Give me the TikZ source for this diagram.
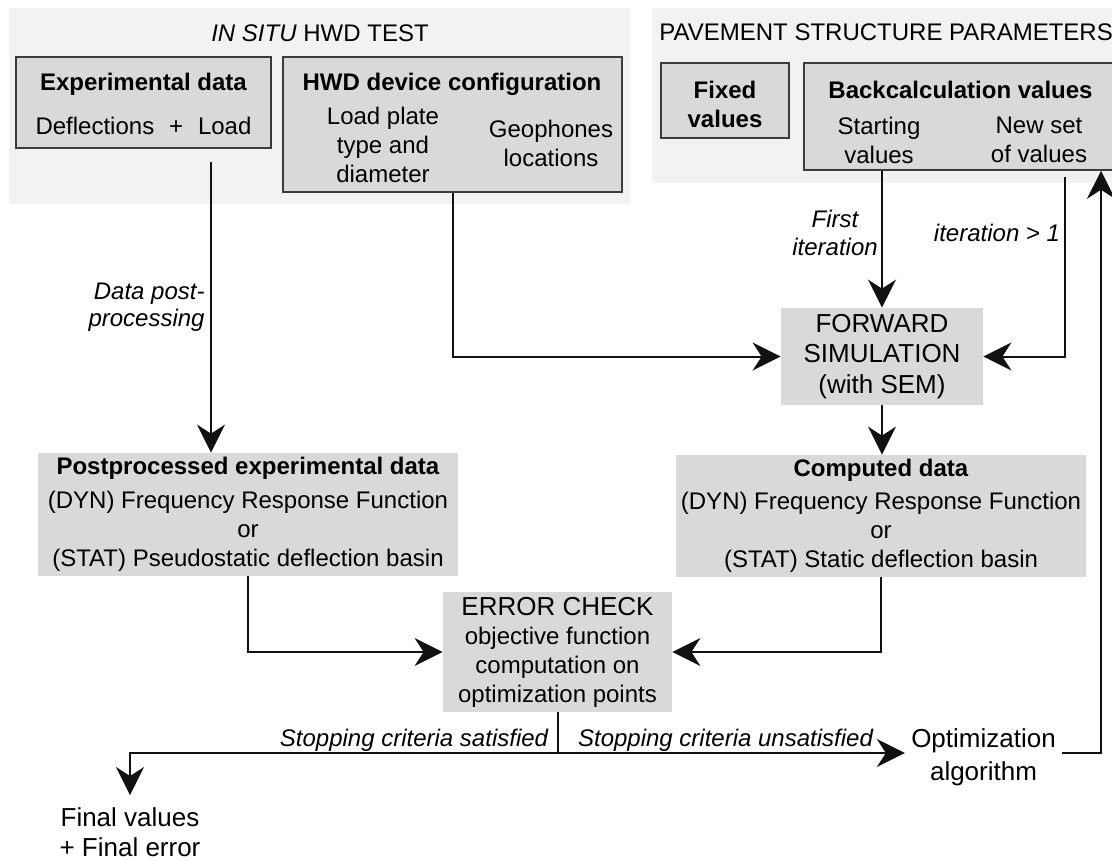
\documentclass[tikz,border=0pt]{standalone}
\usepackage{fontspec}
\setmainfont{Liberation Sans}
\usetikzlibrary{arrows.meta}
\definecolor{panelgray}{HTML}{F2F2F2}
\definecolor{boxgray}{HTML}{D9D9D9}
\definecolor{linecol}{HTML}{111111}
\definecolor{bordercol}{HTML}{3C3C3C}
\begin{document}
\begin{tikzpicture}[x=0.5pt,y=-0.5pt,
  txt/.style={inner sep=0pt, align=center, font=\fontsize{12pt}{14.5pt}\selectfont},
  bigtxt/.style={inner sep=0pt, align=center, font=\fontsize{13pt}{15.25pt}\selectfont},
  framedbox/.style={fill=boxgray, draw=bordercol, line width=0.75pt, inner sep=0pt},
  plainbox/.style={fill=boxgray, draw=none, inner sep=0pt},
  conn/.style={draw=linecol, line width=1pt, -{Stealth[length=14pt,width=14pt,inset=4.5pt]}},
  link/.style={draw=linecol, line width=1pt}]
\useasboundingbox (0,0) rectangle (1112,859);
\clip (0,0) rectangle (1112,859);
\fill[white] (0,0) rectangle (1112,859);
% panels
\fill[panelgray] (9,8) rectangle (630,204);
\fill[panelgray] (652,8) rectangle (1130,183);
\node[txt] (titleL) at (320,33) {\textit{IN SITU} HWD TEST};
\node[txt, anchor=west] (titleR) at (659,32) {PAVEMENT STRUCTURE PARAMETERS};
% framed boxes
\node[framedbox, minimum width=127.5pt, minimum height=45.5pt] (expbox) at (143.5,102.5) {};
\node[txt] (expTitle) at (143.5,84) {\textbf{Experimental data}};
\node[txt] (expText) at (143.5,126) {Deflections\hspace{0.62em}+\hspace{0.62em}Load};
\node[framedbox, minimum width=169.5pt, minimum height=67.5pt] (hwdbox) at (452.5,124.5) {};
\node[txt] (hwdTitle) at (452,84) {\textbf{HWD device configuration}};
\node[txt] (loadplate) at (383,145) {Load plate\\type and\\diameter};
\node[txt] (geoph) at (551,143) {Geophones\\locations};
\node[framedbox, minimum width=64pt, minimum height=37.5pt] (fixbox) at (725,100.5) {};
\node[txt] (fixTxt) at (725,104) {\textbf{Fixed}\\\textbf{values}};
\node[framedbox, minimum width=163pt, minimum height=53.5pt] (backbox) at (967,116.5) {};
\node[txt] (backTitle) at (960.5,90) {\textbf{Backcalculation values}};
\node[txt] (startv) at (879,140) {Starting\\values};
\node[txt] (newv) at (1039,140) {New set\\of values};
% plain boxes
\node[plainbox, bigtxt, minimum width=101pt, minimum height=48.5pt] (fwd) at (882,356.5) {FORWARD\\SIMULATION\\(with SEM)};
\node[plainbox, txt, minimum width=205pt, minimum height=61pt] (comp) at (881,516) {\textbf{Computed data}\\[2pt](DYN) Frequency Response Function\\or\\(STAT) Static deflection basin};
\node[plainbox, txt, minimum width=210pt, minimum height=61.5pt] (post) at (248,514.5) {\textbf{Postprocessed experimental data}\\[2.5pt](DYN) Frequency Response Function\\or\\(STAT) Pseudostatic deflection basin};
\node[plainbox, txt, minimum width=114.5pt, minimum height=60pt] (err) at (557.5,652) {{\fontsize{13pt}{15pt}\selectfont ERROR CHECK}\\objective function\\computation on\\optimization points};
% free labels
\node[txt, anchor=east, align=right, font=\fontsize{12pt}{13.5pt}\selectfont\itshape] (dpp) at (205,307) {Data post-\\processing};
\node[txt, font=\fontsize{12pt}{14pt}\selectfont\itshape] (firstit) at (835,233) {First\\iteration};
\node[txt, font=\fontsize{12pt}{14pt}\selectfont\itshape] (itgt) at (997,233) {iteration > 1};
\node[txt, anchor=base, font=\fontsize{12pt}{14pt}\selectfont\itshape] (sat) at (414,746) {Stopping criteria satisfied};
\node[txt, anchor=base, font=\fontsize{12pt}{14pt}\selectfont\itshape] (unsat) at (725.5,746) {Stopping criteria unsatisfied};
\node[bigtxt, font=\fontsize{13pt}{16.5pt}\selectfont, inner xsep=3pt] (opt) at (983.5,757.5) {Optimization\\algorithm};
\node[bigtxt, font=\fontsize{13pt}{15pt}\selectfont, anchor=north, inner ysep=6pt] (final) at (130,795) {Final values\\+ Final error};
% coordinates
\coordinate (expout) at (211,162);
\coordinate (newout) at (1065,177);
\coordinate (split) at (557.5,753);
\coordinate (fb) at (1101,753);
% connectors
\draw[conn] (expout) -- (expout |- post.north);
\draw[conn] (hwdbox.south) |- (fwd.west);
\draw[conn] (fwd.north |- backbox.south) -- (fwd.north);
\draw[conn] (newout) |- (fwd.east);
\draw[conn] (fwd.south) -- (fwd.south |- comp.north);
\draw[conn] (post.south) |- (err.west);
\draw[conn] (comp.south) |- (err.east);
\draw[link] (err.south) -- (split);
\draw[conn] (split) -| (final.north);
\draw[conn] (split) -- (split -| opt.west);
\draw[conn] (opt.east |- split) -- (fb) -- (fb |- backbox.south);
\end{tikzpicture}
\end{document}
